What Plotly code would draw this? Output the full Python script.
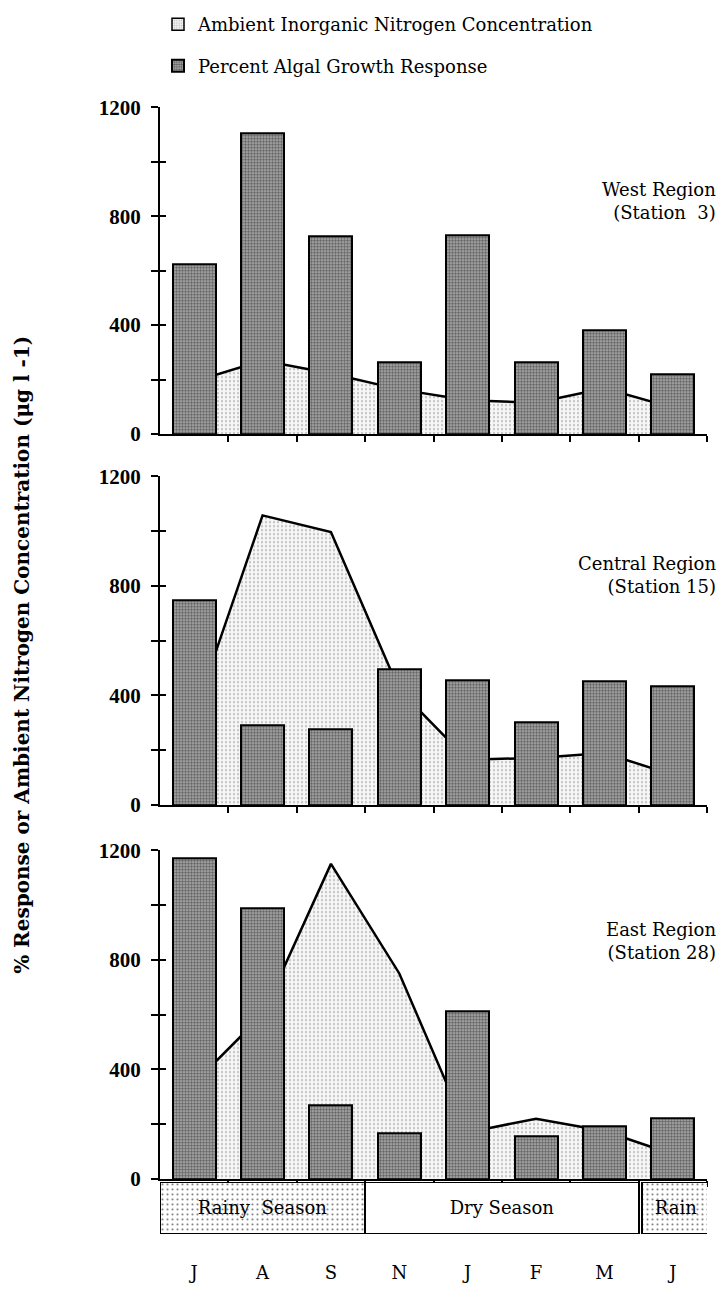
import plotly.graph_objects as go

# ---------------- data ----------------
months = ["J", "A", "S", "N", "J", "F", "M", "J"]
month_idx = [0, 1, 2, 3, 4, 5, 6, 7]

west_response = [622, 1103, 726, 262, 730, 262, 380, 219]
west_nitrogen = [193, 270, 222, 164, 124, 115, 168, 97]

central_response = [748, 290, 276, 494, 455, 301, 451, 433]
central_nitrogen = [330, 1057, 996, 420, 165, 172, 190, 110]

east_response = [1172, 989, 269, 168, 613, 158, 194, 222]
east_nitrogen = [350, 600, 1150, 750, 170, 220, 175, 90]

season_labels = ["Rainy  Season", "Dry Season", "Rain"]
season_start = [-0.5, 2.5, 6.55]
season_end = [2.5, 6.5, 7.55]
season_pattern = [".", "", "."]

region_labels = ["West Region<br>(Station  3)",
                 "Central Region<br>(Station 15)",
                 "East Region<br>(Station 28)"]

y_tickvals = [0, 200, 400, 600, 800, 1000, 1200]
y_ticktext = ["0", "", "400", "", "800", "", "1200"]

# ---------------- layout geometry (page pixels) ----------------
W, H = 721, 1294

def px_x(p):
    return p / W

def px_y(p):
    return 1 - p / H

x_dom = [px_x(160), px_x(707)]
panel_px = [(97, 430), (473, 808), (854, 1189)]
season_px = (1192, 1245)

SERIF = "DejaVu Serif"
TICKFONT = "Liberation Serif"

fig = go.Figure()

panels = [
    (west_response, west_nitrogen),
    (central_response, central_nitrogen),
    (east_response, east_nitrogen),
]

amb_marker = dict(color="#f2f2f2", line=dict(color="black", width=1.5),
                  pattern=dict(shape=".", fgcolor="#8a8a8a", bgcolor="#f4f4f4",
                               size=3, solidity=0.3))
resp_marker = dict(color="#b3b3b3", line=dict(color="black", width=2),
                   pattern=dict(shape=".", fgcolor="#141414", bgcolor="#b3b3b3",
                                size=3, solidity=0.55))

# legend entries (box symbols, as in the original key)
fig.add_trace(go.Bar(x=[None], y=[None], xaxis="x", yaxis="y5",
                     marker=amb_marker,
                     name="Ambient Inorganic Nitrogen Concentration",
                     legendgroup="amb", showlegend=True))
fig.add_trace(go.Bar(x=[None], y=[None], xaxis="x", yaxis="y5",
                     marker=resp_marker,
                     name="Percent Algal Growth Response",
                     legendgroup="resp", showlegend=True))

for i, (resp, nit) in enumerate(panels):
    n = i + 1
    xa = "x" if n == 1 else f"x{n}"
    ya = "y" if n == 1 else f"y{n}"
    yb = f"y{n + 4}"
    fig.add_trace(go.Scatter(
        x=month_idx, y=nit, xaxis=xa, yaxis=ya,
        mode="lines", line=dict(color="black", width=2.5),
        fill="tozeroy", fillcolor="#f4f4f4",
        fillpattern=dict(shape=".", fgcolor="#8a8a8a", bgcolor="#f7f7f7",
                         size=4, solidity=0.25),
        name="Ambient Inorganic Nitrogen Concentration",
        legendgroup="amb", showlegend=False,
    ))
    fig.add_trace(go.Bar(
        x=month_idx, y=resp, xaxis=xa, yaxis=yb, width=0.63,
        marker=resp_marker,
        name="Percent Algal Growth Response",
        legendgroup="resp", showlegend=False,
    ))

# season band
season_center = [(a + b) / 2 for a, b in zip(season_start, season_end)]
season_width = [b - a for a, b in zip(season_start, season_end)]
fig.add_trace(go.Bar(
    x=season_center, y=[1] * len(season_labels), width=season_width,
    xaxis="x4", yaxis="y4",
    marker=dict(color="white", line=dict(color="black", width=2),
                pattern=dict(shape=season_pattern, fgcolor="black", bgcolor="white",
                             size=5, solidity=0.15)),
    text=season_labels, textposition="inside", insidetextanchor="middle",
    textangle=0, textfont=dict(family=SERIF, size=18, color="black"),
    constraintext="none",
    showlegend=False, hoverinfo="skip",
))

layout = dict(
    width=W, height=H,
    margin=dict(l=0, r=0, t=0, b=0),
    paper_bgcolor="white", plot_bgcolor="rgba(0,0,0,0)",
    bargap=0, barmode="overlay",
    font=dict(family=SERIF, color="black"),
    legend=dict(x=px_x(158), y=1 + 6 / H, xanchor="left", yanchor="top",
                font=dict(family=SERIF, size=18, color="black"),
                tracegroupgap=15, bgcolor="rgba(0,0,0,0)"),
)

for i, (top, bot) in enumerate(panel_px):
    n = i + 1
    xk = "xaxis" if n == 1 else f"xaxis{n}"
    yk = "yaxis" if n == 1 else f"yaxis{n}"
    ya = "y" if n == 1 else f"y{n}"
    xa = "x" if n == 1 else f"x{n}"
    layout[xk] = dict(
        domain=x_dom, anchor=ya, range=[-0.5, 7.5],
        showline=True, linecolor="black", linewidth=2,
        tickvals=[k + 0.5 for k in month_idx], ticktext=[""] * 8,
        ticks="outside", ticklen=6, tickwidth=1.5, tickcolor="black",
        showgrid=False, zeroline=False, fixedrange=True,
    )
    layout[yk] = dict(
        domain=[px_y(bot), px_y(top)], anchor=xa, range=[0, 1200],
        showline=True, linecolor="black", linewidth=2,
        tickvals=y_tickvals, ticktext=y_ticktext,
        ticks="outside", ticklen=7, tickwidth=1.5, tickcolor="black",
        tickfont=dict(family=TICKFONT, size=21, color="black", weight="bold"),
        ticklabelstandoff=6,
        showgrid=False, zeroline=False,
    )
    # overlay axis carrying the bars (drawn above the nitrogen area);
    # its inside ticks complete the crossing tick marks
    layout[f"yaxis{n + 4}"] = dict(
        overlaying=ya, anchor=xa, side="left", range=[0, 1200],
        showline=False, showgrid=False, zeroline=False,
        tickvals=y_tickvals, showticklabels=False,
        ticks="inside", ticklen=6, tickwidth=1.5, tickcolor="black",
    )

layout["xaxis4"] = dict(
    domain=x_dom, anchor="y4", range=[-0.5, 7.5],
    showline=False, showgrid=False, zeroline=False,
    tickvals=month_idx, ticktext=months, ticks="",
    tickfont=dict(family=SERIF, size=18, color="black"),
    ticklabelstandoff=26,
)
layout["yaxis4"] = dict(
    domain=[px_y(season_px[1]), px_y(season_px[0])], anchor="x4", range=[0, 1],
    visible=False,
)

annotations = []
for lbl, ly in zip(region_labels, [193, 574, 947]):
    annotations.append(dict(
        text=lbl, xref="paper", yref="paper", x=px_x(718), y=px_y(ly),
        xanchor="right", yanchor="middle", align="right", showarrow=False,
        font=dict(family=SERIF, size=18, color="black"),
    ))
annotations.append(dict(
    text="% Response or Ambient Nitrogen Concentration (\u03bcg l -1)",
    xref="paper", yref="paper", x=px_x(22), y=px_y(655),
    xanchor="center", yanchor="middle", textangle=-90, showarrow=False,
    font=dict(family=SERIF, size=20, color="black", weight="bold"),
))
layout["annotations"] = annotations

fig.update_layout(**layout)
# remove the default 8 px page margin so the figure fills the window exactly
fig.write_html(
    "out.html",
    config={"displayModeBar": False},
    post_script="document.body.style.margin='0';"
                "document.documentElement.style.overflow='hidden';",
)
